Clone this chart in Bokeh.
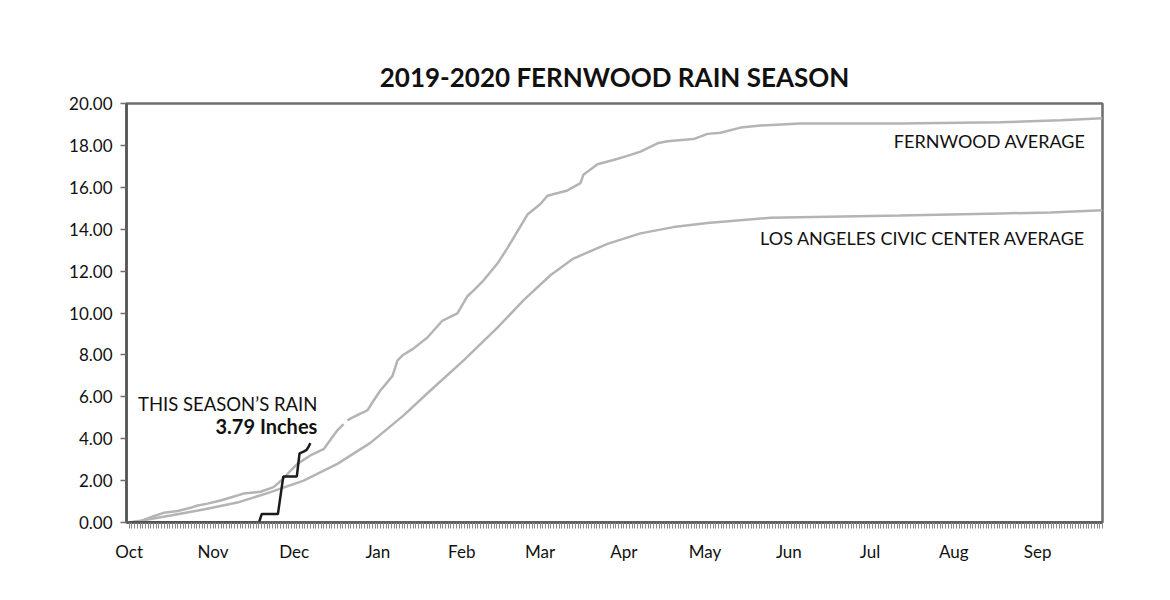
from bokeh.plotting import figure
from bokeh.models import FixedTicker, PrintfTickFormatter, Label, Range1d
from bokeh.embed import file_html
from bokeh.resources import INLINE

# Day index from Oct 1, 2019 (0) to late Sep 2020
month_names = ["Oct", "Nov", "Dec", "Jan", "Feb", "Mar", "Apr", "May", "Jun", "Jul", "Aug", "Sep"]
month_starts = [0, 31, 61, 92, 123, 152, 183, 213, 244, 274, 305, 336]
y_ticks = [0, 2, 4, 6, 8, 10, 12, 14, 16, 18, 20]

fern_days = [0, 4, 9, 12.7, 18, 22.7, 25.3, 29, 33.8, 37.5, 42.3, 48.6, 53.4, 57.1, 59.7,
             62.2, 67, 71.9, 77, 79.3, float("nan"), 80.7, 81.8, 85.5, 88.1, 90.3, 92.9, 95.5, 97.4,
             99.2, 101, 105.1, 110.3, 115.9, 121.4, 125.1, 127.3, 131, 136.2, 139.9,
             147.3, 152.1, 154.7, 162.1, 166.9, 168, 173.2, 179.1, 184.3, 189.1, 195.4,
             199.1, 208.7, 213.9, 218.7, 226.1, 233.5, 248.3, 285.2, 322.2, 344.4, 360]
fern_vals = [0.0, 0.05, 0.3, 0.46, 0.55, 0.7, 0.81, 0.9, 1.05, 1.19, 1.38, 1.47, 1.69, 2.1, 2.48,
             2.8, 3.2, 3.5, 4.4, 4.7, float("nan"), 4.87, 4.96, 5.2, 5.35, 5.8, 6.3, 6.7, 7.0,
             7.73, 7.97, 8.3, 8.83, 9.64, 9.98, 10.8, 11.07, 11.55, 12.36, 13.1,
             14.7, 15.2, 15.6, 15.85, 16.2, 16.6, 17.1, 17.3, 17.5, 17.7, 18.1,
             18.2, 18.3, 18.55, 18.6, 18.85, 18.95, 19.05, 19.05, 19.1, 19.2, 19.3]

la_days = [0, 4.2, 15.3, 27.5, 40, 52.3, 64.5, 77, 89.2, 101.4, 111.4, 123.6, 136.2, 145.8,
           155.8, 164.3, 176.9, 189.1, 201.3, 213.9, 237.2, 285.2, 322.2, 340.7, 360]
la_vals = [0.0, 0.08, 0.33, 0.62, 0.95, 1.45, 2.0, 2.8, 3.8, 5.1, 6.3, 7.73, 9.3, 10.6,
           11.8, 12.6, 13.3, 13.8, 14.1, 14.3, 14.55, 14.65, 14.75, 14.8, 14.9]

season_days = [0, 48, 49, 55, 57, 62, 63, 64.5, 65.5, 66.3, 67]
season_vals = [0.0, 0.0, 0.4, 0.4, 2.2, 2.2, 3.3, 3.38, 3.45, 3.6, 3.79]

FONT = "Lato"
GRAY = "#b4b4b4"

p = figure(width=1162, height=592, output_backend="svg", toolbar_location=None,
           x_range=Range1d(-1, 360), y_range=Range1d(0, 20),
           min_border_left=126, min_border_right=60, min_border_top=103, min_border_bottom=70)
p.background_fill_color = "white"
p.border_fill_color = "white"
p.outline_line_color = "#6e6e6e"
p.outline_line_width = 2.5
p.xgrid.visible = False
p.ygrid.visible = False

p.title.text = "2019-2020 FERNWOOD RAIN SEASON"
p.title.align = "center"
p.title.text_font = FONT
p.title.text_font_size = "26px"
p.title.text_font_style = "bold"
p.title.text_color = "#111111"
p.title.standoff = 21

p.line(fern_days, fern_vals, line_color=GRAY, line_width=2.5)
p.line(la_days, la_vals, line_color=GRAY, line_width=2.5)
p.line(season_days, season_vals, line_color="#1c1c1c", line_width=2.5)

xa = p.xaxis[0]
xa.ticker = FixedTicker(ticks=month_starts, minor_ticks=list(range(0, 361)))
xa.major_label_overrides = {d: n for d, n in zip(month_starts, month_names)}
xa.major_tick_out = 0
xa.major_tick_in = 0
xa.minor_tick_out = 6
xa.minor_tick_in = 0
xa.minor_tick_line_color = "#8a8a8a"
xa.minor_tick_line_width = 1
xa.axis_line_color = "#555555"
xa.axis_line_width = 2.5
xa.major_label_text_font = FONT
xa.major_label_text_font_size = "17px"
xa.major_label_text_color = "#111111"
xa.major_label_standoff = 12

ya = p.yaxis[0]
ya.ticker = FixedTicker(ticks=y_ticks)
ya.formatter = PrintfTickFormatter(format="%.2f")
ya.major_tick_out = 6
ya.major_tick_in = 0
ya.major_tick_line_color = "#6e6e6e"
ya.major_tick_line_width = 1.5
ya.minor_tick_line_color = None
ya.axis_line_color = "#555555"
ya.axis_line_width = 2.5
ya.major_label_text_font = FONT
ya.major_label_text_font_size = "17px"
ya.major_label_text_color = "#111111"
ya.major_label_standoff = 8

def add_label(x, y, text, size, bold=False):
    p.add_layout(Label(x=x, y=y, text=text, text_font=FONT, text_font_size=size,
                       text_font_style="bold" if bold else "normal", text_color="#111111",
                       text_align="right", text_baseline="middle"))

add_label(353.7, 18.19, "FERNWOOD AVERAGE", "18px")
add_label(353.7, 13.6, "LOS ANGELES CIVIC CENTER AVERAGE", "18px")
add_label(69.6, 5.66, "THIS SEASON\u2019S RAIN", "18.5px")
add_label(69.6, 4.63, "3.79 Inches", "20px", bold=True)

open("out.html", "w").write(file_html(p, INLINE))
